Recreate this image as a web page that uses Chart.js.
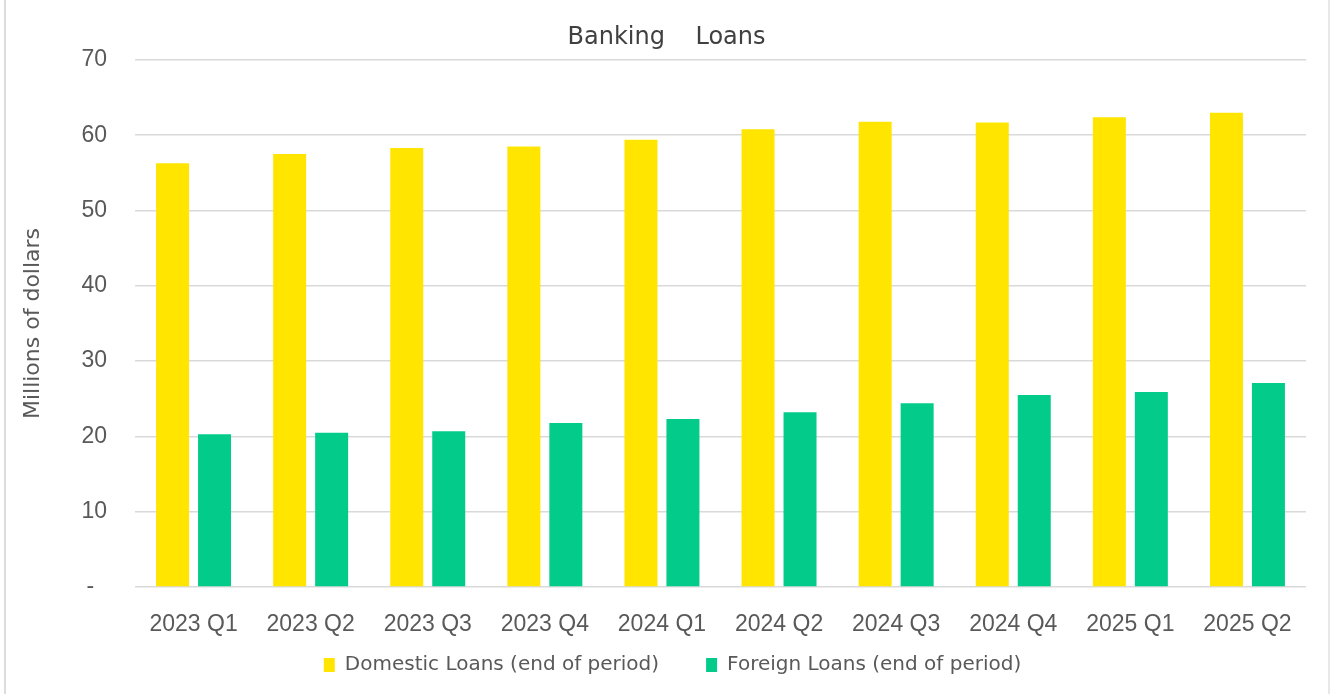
<!DOCTYPE html>
<html>
<head>
<meta charset="utf-8">
<title>Banking Loans</title>
<script src="https://cdn.jsdelivr.net/npm/chart.js@4.4.1/dist/chart.umd.min.js"></script>
<style>
    html, body { margin: 0; padding: 0; background: #fff; }
    #wrap { position: relative; width: 1330px; height: 694px; }
    #frame {
        position: absolute; left: 4px; top: 0; width: 1322px; height: 694px;
        border-left: 2px solid #dcdcdc; border-right: 2px solid #e8e8e8;
        pointer-events: none;
    }
</style>
</head>
<body>
<div id="wrap">
    <canvas id="loansChart" width="1330" height="694"></canvas>
    <div id="frame"></div>
</div>
<script>
// quarterly loan balances, millions of dollars
var quarters = ['2023 Q1', '2023 Q2', '2023 Q3', '2023 Q4', '2024 Q1', '2024 Q2', '2024 Q3', '2024 Q4', '2025 Q1', '2025 Q2'];
var domesticLoans = [56.3, 57.5, 58.3, 58.5, 59.4, 60.8, 61.8, 61.7, 62.4, 63.0];
var foreignLoans = [20.3, 20.5, 20.7, 21.8, 22.3, 23.2, 24.4, 25.5, 25.9, 27.1];
var yTicks = [0, 10, 20, 30, 40, 50, 60, 70];

var textGrey = '#595959';
Chart.defaults.font.family = "'Liberation Sans', Arial, sans-serif";
Chart.defaults.color = textGrey;

// nudge the title and legend sideways / down once the layout is done
var shiftBlocks = {
    id: 'shiftBlocks',
    afterLayout: function (chart) {
        var t = chart.titleBlock;
        t.left += 11;
        t.right += 11;
        var lg = chart.legend;
        lg.left += 17;
        lg.right += 17;
        lg.top = 608;
    }
};

var ctx = document.getElementById('loansChart').getContext('2d');

var loansChart = new Chart(ctx, {
    type: 'bar',
    data: {
        labels: quarters,
        datasets: [{
            label: 'Domestic Loans (end of period)',
            data: domesticLoans,
            backgroundColor: '#FFE500',
            categoryPercentage: 0.717,
            barPercentage: 0.786
        },
        {
            label: 'Foreign Loans (end of period)',
            data: foreignLoans,
            backgroundColor: '#03CC8B',
            categoryPercentage: 0.717,
            barPercentage: 0.786
        }]
    },
    options: {
        responsive: false,
        animation: false,
        layout: {
            padding: { left: 5, right: 24, top: 0, bottom: 17 }
        },
        scales: {
            x: {
                grid: { display: false },
                border: { display: false },
                ticks: {
                    padding: 16,
                    autoSkip: false,
                    maxRotation: 0,
                    font: { size: 23 }
                },
                afterFit: function (scale) { scale.height = 50; }
            },
            y: {
                min: 0,
                max: 70,
                grid: { color: '#d9d9d9', lineWidth: 1.6, drawTicks: false },
                border: { display: false },
                afterBuildTicks: function (scale) {
                    scale.ticks = yTicks.map(function (v) { return { value: v }; });
                },
                ticks: {
                    padding: 28,
                    font: { size: 23 },
                    callback: function (value) {
                        return value === 0 ? '-  ' : value;  // zero shown as a dash
                    }
                },
                title: {
                    display: true,
                    text: 'Millions of dollars',
                    color: textGrey,
                    font: { family: "'DejaVu Sans', sans-serif", size: 22 },
                    padding: { top: 15, bottom: 0 }
                },
                afterFit: function (scale) { scale.width = 130; }
            }
        },
        plugins: {
            title: {
                display: true,
                text: 'Banking    Loans',
                color: '#404040',
                font: { family: "'DejaVu Sans', sans-serif", size: 24, weight: 'normal' },
                padding: { top: 23, bottom: 8.2 }
            },
            legend: {
                position: 'bottom',
                maxHeight: 40,
                labels: {
                    boxWidth: 11,
                    boxHeight: 14,
                    padding: 47,
                    color: textGrey,
                    font: { family: "'DejaVu Sans', sans-serif", size: 20 }
                }
            },
            tooltip: { enabled: false }
        }
    },
    plugins: [shiftBlocks]
});
</script>
</body>
</html>
